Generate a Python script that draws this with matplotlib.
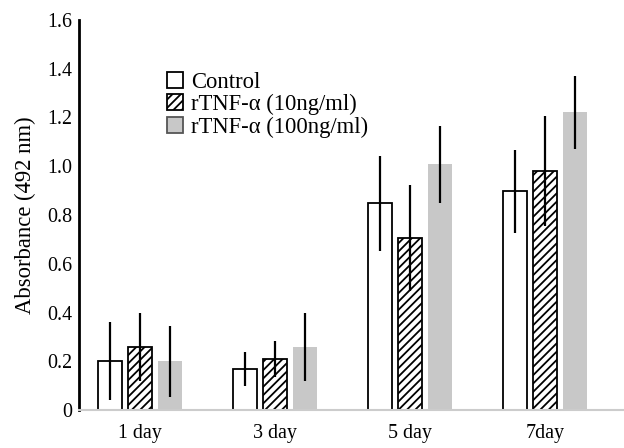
import numpy as np
import matplotlib.pyplot as plt
from matplotlib.patches import Patch

plt.rcParams['font.family'] = ['Liberation Serif', 'DejaVu Serif']
plt.rcParams['hatch.linewidth'] = 1.3

# donnees
days = ['1 day', '3 day', '5 day', '7day']
series = ['Control', 'rTNF-α (10ng/ml)', 'rTNF-α (100ng/ml)']
control = [0.20, 0.168, 0.849, 0.898]
control_err = [0.16, 0.07, 0.195, 0.17]
tnf10 = [0.258, 0.209, 0.705, 0.98]
tnf10_err = [0.14, 0.074, 0.218, 0.226]
tnf100 = [0.20, 0.258, 1.009, 1.222]
tnf100_err = [0.145, 0.14, 0.158, 0.15]
yticks = [0, 0.2, 0.4, 0.6, 0.8, 1.0, 1.2, 1.4, 1.6]
ytick_labels = ['0', '0.2', '0.4', '0.6', '0.8', '1.0', '1.2', '1.4', '1.6']

fig = plt.figure(figsize=(6.24, 4.48), dpi=100)
ax = fig.add_axes([0.1266, 0.0848, 0.8734, 0.8706])

x = np.arange(len(days))
w = 0.178
off = 0.222

ax.bar(x - off, control, w, color='white', edgecolor='black', linewidth=1.3, zorder=2)
ax.bar(x, tnf10, w, color='white', edgecolor='black', hatch='////', linewidth=1.3, zorder=2)
ax.bar(x + off, tnf100, w, color='#c8c8c8', edgecolor='none', zorder=2)

err_kw = dict(fmt='none', ecolor='black', elinewidth=1.6, capsize=0, zorder=3)
ax.errorbar(x - off, control, yerr=control_err, **err_kw)
ax.errorbar(x, tnf10, yerr=tnf10_err, **err_kw)
ax.errorbar(x + off, tnf100, yerr=tnf100_err, **err_kw)

ax.set_xlim(-0.452, 3.585)
ax.set_ylim(0, 1.6)
ax.set_xticks(x)
ax.set_xticklabels(days, fontsize=14.4)
ax.set_yticks(yticks)
ax.set_yticklabels(ytick_labels, fontsize=14.4)
ax.tick_params(axis='both', length=0)
ax.tick_params(axis='x', pad=10)
ax.tick_params(axis='y', pad=5)
ax.set_ylabel('Absorbance (492 nm)', fontsize=16.3, labelpad=8)

for s in ['top', 'right']:
    ax.spines[s].set_visible(False)
ax.spines['left'].set_linewidth(2)
ax.spines['bottom'].set_color('#cccccc')
ax.spines['bottom'].set_linewidth(1.5)

handles = [Patch(facecolor='white', edgecolor='black', linewidth=1.3),
           Patch(facecolor='white', edgecolor='black', hatch='////', linewidth=1.3),
           Patch(facecolor='#c8c8c8', edgecolor='#555555', linewidth=1.3)]
ax.legend(handles, series, loc='upper left', bbox_to_anchor=(167 / 624, 1 - 72 / 448),
          bbox_transform=fig.transFigure, frameon=False, fontsize=16.3,
          handlelength=0.7, handleheight=0.7, handletextpad=0.35,
          labelspacing=0.05, borderpad=0, borderaxespad=0)

plt.savefig('out.png', dpi=100)
